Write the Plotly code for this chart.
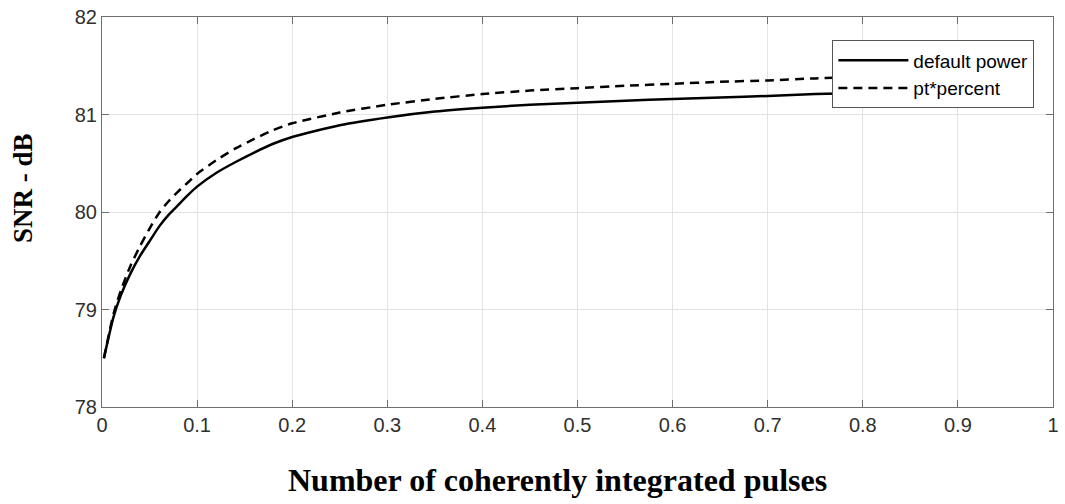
import plotly.graph_objects as go

x_vals = [0.002, 0.012, 0.02, 0.03, 0.04, 0.05, 0.06, 0.07, 0.08, 0.09, 0.1,
          0.12, 0.14, 0.16, 0.18, 0.2, 0.25, 0.3, 0.35, 0.4, 0.45, 0.5,
          0.55, 0.6, 0.65, 0.7, 0.75, 0.8]
default_power = [78.5, 78.92, 79.15, 79.37, 79.55, 79.70, 79.85, 79.97, 80.07, 80.17, 80.26,
                 80.40, 80.51, 80.61, 80.70, 80.77, 80.89, 80.97, 81.03, 81.07, 81.10, 81.12,
                 81.14, 81.16, 81.175, 81.19, 81.21, 81.22]
pt_percent = [78.5, 78.95, 79.2, 79.45, 79.65, 79.83, 79.99, 80.11, 80.21, 80.30, 80.39,
              80.53, 80.65, 80.75, 80.84, 80.91, 81.02, 81.10, 81.16, 81.21, 81.245, 81.27,
              81.295, 81.315, 81.335, 81.35, 81.37, 81.385]

x_ticks = [0, 0.1, 0.2, 0.3, 0.4, 0.5, 0.6, 0.7, 0.8, 0.9, 1]
x_tick_labels = ["0", "0.1", "0.2", "0.3", "0.4", "0.5", "0.6", "0.7", "0.8", "0.9", "1"]
y_ticks = [78, 79, 80, 81, 82]

x_title = "Number of coherently integrated pulses"
y_title = "SNR - dB"

fig = go.Figure()
fig.add_trace(go.Scatter(x=x_vals, y=default_power, mode="lines", name="default power",
                         line=dict(color="black", width=2.5, shape="spline", smoothing=0.6)))
fig.add_trace(go.Scatter(x=x_vals, y=pt_percent, mode="lines", name="pt*percent",
                         line=dict(color="black", width=2.5, dash="9px,6px",
                                   shape="spline", smoothing=0.6)))

axis_common = dict(showline=True, linecolor="#6e6e6e", linewidth=1.2, mirror="ticks",
                   ticks="inside", ticklen=7, tickcolor="#6e6e6e",
                   showgrid=True, gridcolor="#e3e3e3", gridwidth=1, zeroline=False,
                   tickfont=dict(family="Liberation Sans, Arial", size=20, color="#303030"))

fig.update_xaxes(range=[0, 1], tickvals=x_ticks, ticktext=x_tick_labels, **axis_common)
fig.update_yaxes(range=[78, 82], tickvals=y_ticks, **axis_common)

fig.add_annotation(text="<b>" + x_title + "</b>", xref="paper", yref="paper",
                   x=0.479, y=-0.186, xanchor="center", yanchor="middle", showarrow=False,
                   font=dict(family="Liberation Serif, Times New Roman", size=32, color="black"))
fig.add_annotation(text="<b>" + y_title + "</b>", xref="paper", yref="paper",
                   x=-0.0833, y=0.561, xanchor="center", yanchor="middle", showarrow=False,
                   textangle=-90,
                   font=dict(family="Liberation Serif, Times New Roman", size=27, color="black"))

fig.update_layout(
    width=1065, height=504,
    margin=dict(l=102, r=6, t=13, b=97),
    plot_bgcolor="white", paper_bgcolor="white",
    showlegend=True,
    legend=dict(x=0.768, y=0.94, xanchor="left", yanchor="top",
                bgcolor="white", bordercolor="#555555", borderwidth=1,
                font=dict(family="Liberation Sans, Arial", size=19, color="black"),
                itemwidth=70, tracegroupgap=0),
)

fig.write_html("out.html")
